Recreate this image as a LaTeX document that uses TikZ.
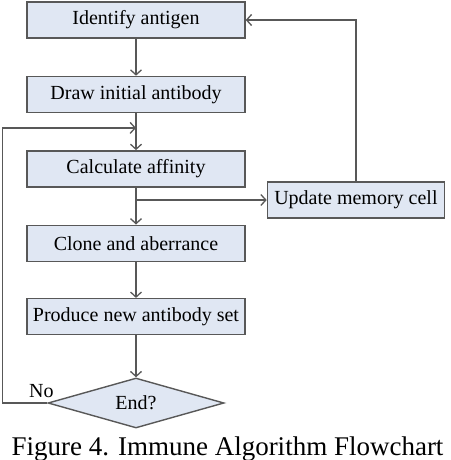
\documentclass[tikz,border=0pt]{standalone}
\usepackage{fontspec}
\setmainfont{Liberation Serif}
\usepackage{tikz}
\usetikzlibrary{calc,shapes.geometric,arrows.meta,positioning}
\definecolor{boxfill}{RGB}{224,231,243}
\definecolor{linegray}{RGB}{88,88,88}
\tikzset{
	stepbox/.style={
		draw=linegray, rectangle, line width=1.4pt,
		minimum width=218pt, minimum height=36pt,
		fill=boxfill, inner sep=2pt, text=black,
		font=\fontsize{20}{24}\selectfont
	},
	decision/.style={
		draw=linegray, diamond, line width=1.4pt, aspect=3.5,
		minimum width=176pt, minimum height=50pt,
		fill=boxfill, inner sep=0pt, text=black,
		font=\fontsize{20}{24}\selectfont
	},
	flow_arrow/.style={-{Straight Barb[length=5pt,width=11pt]}, draw=linegray, line width=1.3pt},
	flow_line/.style={draw=linegray, line width=1.3pt},
	node distance=37pt
}

\begin{document}
\begin{tikzpicture}[x=1pt,y=1pt]
				\useasboundingbox (0,0) rectangle (450,-460);
				\node[stepbox] (antigen) at (136,-20) {Identify antigen};
				\node[stepbox] (initial) [below=of antigen] {Draw initial antibody};
				\node[stepbox] (affinity) [below=of initial] {Calculate affinity};
				\node[stepbox] (clone) [below=of affinity] {Clone and aberrance};
				\node[stepbox] (produce) [below=36pt of clone] {Produce new antibody set};
				\node[decision] (end) [below=42pt of produce] {End?};
				\node[stepbox, minimum width=177pt] (memory) [below right=12.5pt and 21pt of affinity.east] {Update memory cell};
				\node[inner sep=0pt, font=\fontsize{20}{24}\selectfont] (no) [above=5pt of end.west, xshift=-6pt] {No};
				\node[inner sep=0pt, font=\fontsize{27}{30}\selectfont] (caption) at (227.5,-449) {Figure 4. Immune Algorithm Flowchart};
				\coordinate (loop) at ($(initial.south)!0.4!(affinity.north)$);
				\draw[flow_arrow] (antigen) -- (initial);
				\draw[flow_arrow] (initial) -- (affinity);
				\draw[flow_arrow] (affinity) -- (clone);
				\draw[flow_arrow] (clone) -- (produce);
				\draw[flow_arrow] (produce) -- (end);
				\draw[flow_arrow] (affinity.south |- memory.west) -- (memory.west);
				\draw[flow_arrow] (memory.north) |- (antigen.east);
				\draw[flow_arrow] (end.west) -- ++(-45,0) |- (loop);
			\end{tikzpicture}
\end{document}
